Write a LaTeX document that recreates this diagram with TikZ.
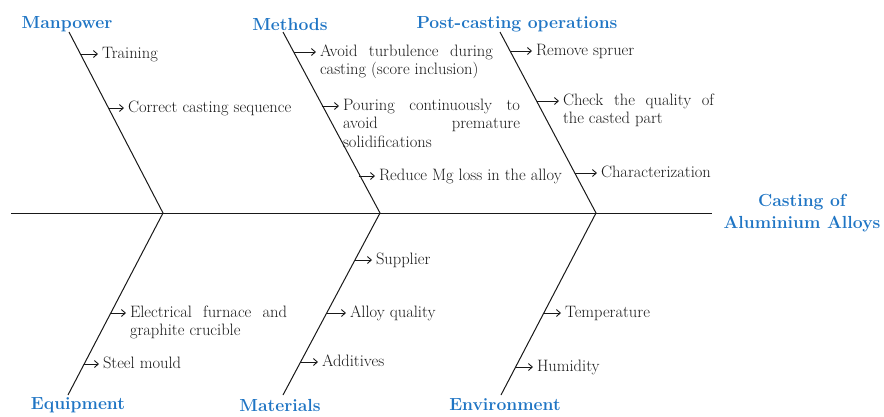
\documentclass[tikz,border=0pt]{standalone}
\usepackage{fontspec}
\usetikzlibrary{arrows.meta}
\definecolor{catblue}{RGB}{31,117,196}
\tikzset{
  cat/.style={font=\fontsize{17.5}{22}\selectfont\bfseries, text=catblue, inner sep=0pt, align=center},
  cause/.style={font=\fontsize{16.5}{18.5}\selectfont, text=black!90, anchor=base west, inner sep=0pt, outer xsep=4pt},
  longcause/.style={cause, text width=#1, align=justify},
  bone/.style={line width=1pt, black!90},
  sub/.style={-{Straight Barb[length=4pt,width=7pt]}, line width=0.9pt, black!90}
}

\begin{document}
\begin{tikzpicture}[x=1pt,y=-1pt]
        \useasboundingbox (0,0) rectangle (884,416);
        % spine and bones
        \coordinate (S0) at (11,213);
        \coordinate (S1) at (712,213);
        \coordinate (J1) at (163,213);
        \coordinate (J2) at (380,213);
        \coordinate (J3) at (596,213);
        \coordinate (MP) at (69,32);
        \coordinate (MT) at (283,32);
        \coordinate (PC) at (500,32);
        \coordinate (EQ) at (68,395);
        \coordinate (MA) at (283,395);
        \coordinate (EN) at (501,395);
        \draw[bone] (S0) -- (S1);
        \draw[bone] (MP) -- (J1) -- (EQ);
        \draw[bone] (MT) -- (J2) -- (MA);
        \draw[bone] (PC) -- (J3) -- (EN);
        % categories
        \node[cat] (manpower) at (67,24) {Manpower};
        \node[cat] (methods) at (290,24) {Methods};
        \node[cat] (post) at (517,24) {Post-casting operations};
        \node[cat] (equip) at (78,405) {Equipment};
        \node[cat] (mater) at (280,405) {Materials};
        \node[cat] (envir) at (505,405) {Environment};
        \node[cat] (effect) at (802,213) {Casting of\\Aluminium Alloys};
        % manpower
        \coordinate (mp1) at (80.4,54);
        \coordinate (mp2) at (108.5,108);
        \node[cause] (train) at (98,58) {Training};
        \node[cause] (seq) at (124,112) {Correct casting sequence};
        \draw[sub] (mp1) -- (mp1 -| train.west);
        \draw[sub] (mp2) -- (mp2 -| seq.west);
        % methods
        \coordinate (mt1) at (293.5,52);
        \coordinate (mt2) at (321.9,106);
        \coordinate (mt3) at (358.6,176);
        \node[longcause=173pt] (turb) at (316,56) {Avoid turbulence during\linebreak casting (score inclusion)};
        \node[longcause=177pt] (pour) at (339,110) {Pouring continuously to\linebreak avoid premature\linebreak solidifications};
        \node[cause] (mg) at (375,180) {Reduce Mg loss in the alloy};
        \draw[sub] (mt1) -- (mt1 -| turb.west);
        \draw[sub] (mt2) -- (mt2 -| pour.west);
        \draw[sub] (mt3) -- (mt3 -| mg.west);
        % post-casting operations
        \coordinate (pc1) at (510,51);
        \coordinate (pc2) at (536.6,101);
        \coordinate (pc3) at (574.8,173);
        \node[cause] (sprue) at (532,55) {Remove spruer};
        \node[longcause=151pt] (check) at (559,105) {Check the quality of\linebreak the casted part};
        \node[cause] (charac) at (597,177) {Characterization};
        \draw[sub] (pc1) -- (pc1 -| sprue.west);
        \draw[sub] (pc2) -- (pc2 -| check.west);
        \draw[sub] (pc3) -- (pc3 -| charac.west);
        % equipment
        \coordinate (eq1) at (110.8,313);
        \coordinate (eq2) at (84.2,364);
        \node[longcause=157pt] (furn) at (126,317) {Electrical furnace and\linebreak graphite crucible};
        \node[cause] (mould) at (99,368) {Steel mould};
        \draw[sub] (eq1) -- (eq1 -| furn.west);
        \draw[sub] (eq2) -- (eq2 -| mould.west);
        % materials
        \coordinate (ma1) at (355,260);
        \coordinate (ma2) at (326.7,313);
        \coordinate (ma3) at (300.6,362);
        \node[cause] (supp) at (372,264) {Supplier};
        \node[cause] (alloy) at (346,317) {Alloy quality};
        \node[cause] (addi) at (318,366) {Additives};
        \draw[sub] (ma1) -- (ma1 -| supp.west);
        \draw[sub] (ma2) -- (ma2 -| alloy.west);
        \draw[sub] (ma3) -- (ma3 -| addi.west);
        % environment
        \coordinate (en1) at (543.8,313);
        \coordinate (en2) at (515.6,367);
        \node[cause] (temp) at (561,317) {Temperature};
        \node[cause] (humid) at (533,371) {Humidity};
        \draw[sub] (en1) -- (en1 -| temp.west);
        \draw[sub] (en2) -- (en2 -| humid.west);
    \end{tikzpicture}
\end{document}
